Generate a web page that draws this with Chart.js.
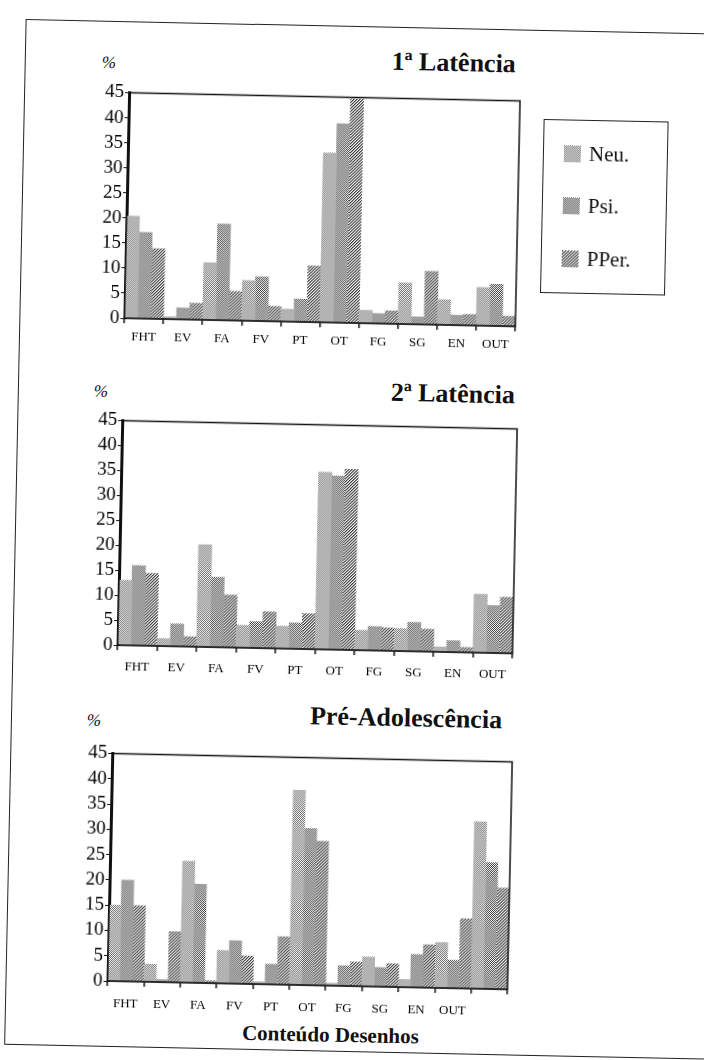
<!DOCTYPE html>
<html>
<head>
<meta charset="utf-8">
<script src="https://cdn.jsdelivr.net/npm/chart.js@4.4.1/dist/chart.umd.min.js"></script>
<style>
  body { margin: 0; background: #fff; width: 704px; height: 1060px; position: relative; overflow: hidden; font-family: 'Liberation Serif', 'DejaVu Serif', serif; color: #111; }
  /* the scan is turned a little clockwise */
  #page { position: absolute; left: 0; top: 0; width: 704px; height: 1060px; transform: rotate(1.2deg); transform-origin: 352px 530px; }
  .frame { position: absolute; left: 15px; top: 26px; width: 800px; height: 1024px; border: 1.5px solid #222; }
  .box { position: absolute; }
  .title { position: absolute; font-weight: bold; font-size: 26px; line-height: 30px; white-space: nowrap; }
  .pct { position: absolute; font-size: 17px; line-height: 20px; font-style: italic; }
  .legend { position: absolute; left: 535px; top: 115px; width: 123px; height: 172px; border: 1.5px solid #222; }
  .item { position: absolute; left: 20px; font-size: 21px; line-height: 24px; white-space: nowrap; }
  .item canvas { vertical-align: -2px; margin-right: 8px; }
  .xlab { position: absolute; left: 341px; top: 1022px; transform: translateX(-50%); font-weight: bold; font-size: 21px; line-height: 26px; white-space: nowrap; }
</style>
</head>
<body>
<div id="page">
<div class="frame"></div>

<div class="pct" style="left:92px; top:58px;">%</div>
<div class="title" style="right:198px; top:46px;">1ª Latência</div>
<div class="box" style="left:62px; top:87px;"><canvas id="chart1" width="454" height="264"></canvas></div>

<div class="legend">
  <div class="item" style="top:21px;"><canvas id="sw0" width="17" height="17"></canvas>Neu.</div>
  <div class="item" style="top:73px;"><canvas id="sw1" width="17" height="17"></canvas>Psi.</div>
  <div class="item" style="top:126px;"><canvas id="sw2" width="17" height="17"></canvas>PPer.</div>
</div>

<div class="pct" style="left:91px; top:387px;">%</div>
<div class="title" style="right:192px; top:377px;">2ª Latência</div>
<div class="box" style="left:62px; top:415px;"><canvas id="chart2" width="458" height="263"></canvas></div>

<div class="pct" style="left:91px; top:716px;">%</div>
<div class="title" style="right:198px; top:702px;">Pré-Adolescência</div>
<div class="box" style="left:59px; top:748px;"><canvas id="chart3" width="463" height="266"></canvas></div>

<div class="xlab">Conteúdo Desenhos</div>
</div>

<script>
// categories
const categories = ['FHT', 'EV', 'FA', 'FV', 'PT', 'OT', 'FG', 'SG', 'EN', 'OUT'];
const categories3 = ['FHT', 'EV', 'FA', 'FV', 'PT', 'OT', 'FG', 'SG', 'EN', 'OUT', ''];
const seriesNames = ['Neu.', 'Psi.', 'PPer.'];

// 1a Latencia
const neu1 = [20.4, 0.5, 11.4, 8.0, 2.5, 33.8, 2.6, 8.2, 5.0, 7.6];
const psi1 = [17.2, 2.3, 19.2, 8.8, 4.5, 39.7, 2.0, 1.5, 2.0, 8.3];
const pper1 = [14.0, 3.3, 5.8, 3.0, 11.2, 44.7, 2.6, 10.6, 2.2, 2.0];

// 2a Latencia
const neu2 = [13.0, 1.5, 20.5, 4.5, 4.5, 35.5, 4.0, 4.5, 1.0, 11.7];
const psi2 = [16.0, 4.5, 14.0, 5.3, 5.2, 34.8, 4.8, 5.8, 2.3, 9.5];
const pper2 = [14.5, 2.0, 10.5, 7.3, 7.1, 36.2, 4.6, 4.5, 1.0, 11.2];

// Pre-Adolescencia
const neu3 = [15.0, 3.5, 24.0, 6.5, 0.5, 38.5, 0.5, 5.8, 1.5, 9.0, 33.0];
const psi3 = [20.0, 0.5, 19.5, 8.5, 4.0, 31.0, 4.0, 3.8, 6.5, 5.5, 25.0];
const pper3 = [15.0, 10.0, 0.5, 5.5, 9.5, 28.5, 4.8, 4.6, 8.5, 13.8, 20.0];

// halftone-ish fills like the scan
const makePattern = type => {
    const n = type === 2 ? 3 : 2;
    const c = document.createElement('canvas');
    c.width = n;
    c.height = n;
    const g = c.getContext('2d');
    g.fillStyle = '#fff';
    g.fillRect(0, 0, n, n);
    for (let y = 0; y < n; y++) {
        for (let x = 0; x < n; x++) {
            if (type === 0 && (x + y) % 2 === 0) { g.fillStyle = '#666'; g.fillRect(x, y, 1, 1); }
            if (type === 1 && (x + y) % 2 === 0) { g.fillStyle = '#3c3c3c'; g.fillRect(x, y, 1, 1); }
            if (type === 2 && (x + y) % 3 !== 2) { g.fillStyle = (x + y) % 3 === 0 ? '#333' : '#999'; g.fillRect(x, y, 1, 1); }
        }
    }
    return g.createPattern(c, 'repeat');
};
const fills = [makePattern(0), makePattern(1), makePattern(2)];

// legend swatches
fills.forEach((p, i) => {
    const sctx = document.getElementById('sw' + i).getContext('2d');
    sctx.fillStyle = p;
    sctx.fillRect(0, 0, 17, 17);
});

// box round the plot area
const framePlugin = {
    id: 'frame',
    afterDraw(chart) {
        const { ctx, chartArea: a } = chart;
        ctx.save();
        ctx.strokeStyle = '#111';
        ctx.lineWidth = 1.5;
        ctx.strokeRect(a.left, a.top, a.right - a.left, a.bottom - a.top);
        ctx.restore();
    }
};

const serif = "'Liberation Serif', 'DejaVu Serif', serif";

const drawChart = (id, labels, neu, psi, pper, labelPad) => {
    const ctx = document.getElementById(id).getContext('2d');
    return new Chart(ctx, {
        type: 'bar',
        data: {
            labels: labels,
            datasets: [neu, psi, pper].map((d, i) => ({
                label: seriesNames[i],
                data: d,
                backgroundColor: fills[i],
                borderWidth: 0,
                categoryPercentage: 1.0,
                barPercentage: 1.0
            }))
        },
        options: {
            responsive: false,
            animation: false,
            devicePixelRatio: 1,
            layout: { padding: { left: 0, right: 5, top: 5, bottom: 0 } },
            plugins: {
                legend: { display: false },
                tooltip: { enabled: false }
            },
            scales: {
                x: {
                    grid: { display: true, drawOnChartArea: false, offset: true, tickLength: 5, color: '#111', lineWidth: 1.5 },
                    border: { color: '#111', width: 1.5 },
                    ticks: { font: { family: serif, size: 13 }, color: '#000', padding: labelPad, maxRotation: 0, autoSkip: false },
                    afterFit: s => { s.height = 28; }
                },
                y: {
                    min: 0,
                    max: 45,
                    grid: { display: true, drawOnChartArea: false, tickLength: 4, color: '#111' },
                    border: { color: '#111', width: 3 },
                    ticks: { stepSize: 5, autoSkip: false, font: { family: serif, size: 19, lineHeight: 1 }, color: '#000', padding: 1 },
                    afterFit: s => { s.width = 58; }
                }
            }
        },
        plugins: [framePlugin]
    });
};

drawChart('chart1', categories, neu1, psi1, pper1, 6);
drawChart('chart2', categories, neu2, psi2, pper2, 9);
drawChart('chart3', categories3, neu3, psi3, pper3, 10);
</script>
</body>
</html>
